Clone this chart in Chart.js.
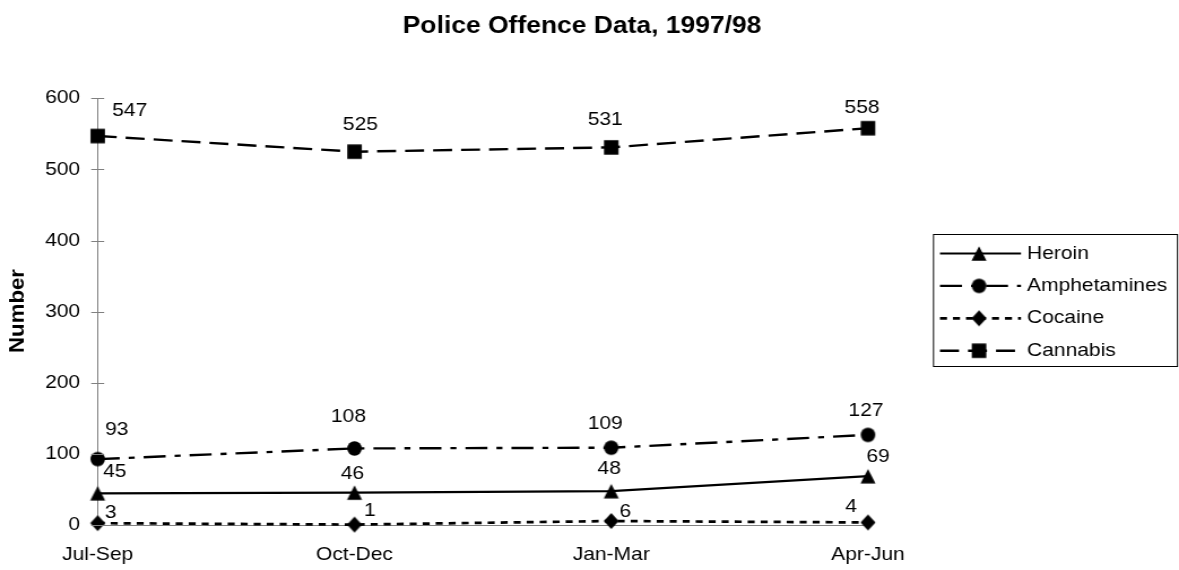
<!DOCTYPE html>
<html>
<head>
<meta charset="utf-8">
<script src="https://cdn.jsdelivr.net/npm/chart.js@4/dist/chart.umd.min.js"></script>
<style>
  html, body { margin: 0; padding: 0; background: #fff; overflow: hidden; }
</style>
</head>
<body>
<canvas id="c" width="1043" height="570" style="width:1179px;height:570px;display:block"></canvas>
<script>
// ---- data ----
const quarters = ['Jul-Sep', 'Oct-Dec', 'Jan-Mar', 'Apr-Jun'];
const heroin = [45, 46, 48, 69];
const amphetamines = [93, 108, 109, 127];
const cocaine = [3, 1, 6, 4];
const cannabis = [547, 525, 531, 558];
const yTicks = [0, 100, 200, 300, 400, 500, 600];
const chartTitle = 'Police Offence Data, 1997/98';
const yTitle = 'Number';

// The canvas is rendered narrower than it is displayed, which widens the lettering.
// Horizontal lengths are given in display pixels and converted with px().
const SX = 1179 / 1043;
const px = v => v / SX;
const FONT = '"Liberation Sans", Arial, Helvetica, sans-serif';

// Solid black marker images, pre-narrowed so they display with the given size.
function marker(shape, w, h) {
  const cw = w / SX;
  const c = document.createElement('canvas');
  c.width = Math.ceil(cw) + 2;
  c.height = Math.ceil(h) + 2;
  const g = c.getContext('2d');
  const cx = c.width / 2, cy = c.height / 2;
  g.fillStyle = '#000';
  g.beginPath();
  if (shape === 'triangle') {
    g.moveTo(cx, cy - h / 2);
    g.lineTo(cx + cw / 2, cy + h / 2);
    g.lineTo(cx - cw / 2, cy + h / 2);
  } else if (shape === 'circle') {
    g.ellipse(cx, cy, cw / 2, h / 2, 0, 0, Math.PI * 2);
  } else if (shape === 'diamond') {
    g.moveTo(cx, cy - h / 2);
    g.lineTo(cx + cw / 2, cy);
    g.lineTo(cx, cy + h / 2);
    g.lineTo(cx - cw / 2, cy);
  } else {
    g.rect(cx - cw / 2, cy - h / 2, cw, h);
  }
  g.closePath();
  g.fill();
  return c;
}

const marks = {
  triangle: marker('triangle', 15, 14.5),
  circle: marker('circle', 14.5, 14.5),
  diamond: marker('diamond', 15, 16),
  square: marker('square', 14.5, 14.5)
};

function series(label, data, style, dash, width, labelShift) {
  return {
    label, data,
    borderColor: '#000',
    backgroundColor: '#000',
    borderWidth: width,
    borderDash: dash.map(px),
    pointStyle: style,
    pointRadius: 7,
    pointHoverRadius: 7,
    tension: 0,
    fill: false,
    clip: false,
    labelShift
  };
}

const datasets = [
  series('Heroin', heroin, marks.triangle, [], 2.2, [[17, -21], [-2, -19], [-2, -22], [10, -19]]),
  series('Amphetamines', amphetamines, marks.circle, [22, 9, 6, 9], 2.4, [[19, -29.5], [-6, -32], [-6, -24], [-2, -24]]),
  series('Cocaine', cocaine, marks.diamond, [7, 6], 2.7, [[13, -10], [15.5, -14], [14, -9], [-17, -16]]),
  series('Cannabis', cannabis, marks.square, [19, 9], 2.4, [[32, -25], [6, -27], [-6, -27.5], [-6, -20]])
];

const decorations = {
  id: 'decorations',
  afterDraw(chart) {
    const ctx = chart.ctx;
    const area = chart.chartArea;
    const yScale = chart.scales.y;

    ctx.save();
    // tick marks crossing the value axis
    ctx.strokeStyle = '#808080';
    ctx.lineWidth = 1;
    ctx.setLineDash([]);
    yScale.ticks.forEach(t => {
      const y = Math.round(yScale.getPixelForValue(t.value)) + 0.5;
      ctx.beginPath();
      ctx.moveTo(area.left - px(6.5), y);
      ctx.lineTo(area.left + px(6.5), y);
      ctx.stroke();
    });

    // value labels
    ctx.fillStyle = '#000';
    ctx.font = '18.6px ' + FONT;
    ctx.textAlign = 'center';
    ctx.textBaseline = 'middle';
    chart.data.datasets.forEach((ds, di) => {
      const meta = chart.getDatasetMeta(di);
      meta.data.forEach((pt, i) => {
        const s = ds.labelShift[i];
        ctx.fillText(String(ds.data[i]), pt.x + px(s[0]), pt.y + s[1]);
      });
    });

    // chart title
    ctx.font = 'bold 23.4px ' + FONT;
    ctx.textBaseline = 'alphabetic';
    ctx.fillText(chartTitle, px(582), 32.7);

    // value axis title
    ctx.save();
    ctx.translate(px(17.5), 311);
    ctx.rotate(-Math.PI / 2);
    ctx.scale(1.2, 1);
    ctx.font = 'bold 18.5px ' + FONT;
    ctx.textBaseline = 'middle';
    ctx.fillText(yTitle, 0, 0);
    ctx.restore();

    // legend
    const boxL = px(933.5), boxR = px(1177.5), boxT = 234.5, boxB = 366.5;
    ctx.strokeStyle = '#000';
    ctx.lineWidth = 1;
    ctx.strokeRect(boxL, boxT, boxR - boxL, boxB - boxT);
    ctx.font = '18.6px ' + FONT;
    ctx.textAlign = 'left';
    ctx.textBaseline = 'middle';
    chart.data.datasets.forEach((ds, i) => {
      const y = 253.5 + i * 32.4;
      ctx.strokeStyle = '#000';
      ctx.lineWidth = ds.borderWidth;
      ctx.setLineDash(ds.borderDash);
      ctx.beginPath();
      ctx.moveTo(px(940), y);
      ctx.lineTo(px(1021), y);
      ctx.stroke();
      ctx.setLineDash([]);
      const img = ds.pointStyle;
      ctx.drawImage(img, px(979) - img.width / 2, y - img.height / 2);
      ctx.fillText(ds.label, px(1027), y);
    });
    ctx.restore();
  }
};

new Chart(document.getElementById('c'), {
  type: 'line',
  data: { labels: quarters, datasets },
  options: {
    responsive: false,
    devicePixelRatio: 1,
    animation: false,
    events: [],
    layout: { padding: { left: 0, top: 98.3, right: 1043 - px(868), bottom: 0 } },
    plugins: {
      legend: { display: false },
      title: { display: false },
      tooltip: { enabled: false }
    },
    scales: {
      x: {
        type: 'category',
        offset: false,
        grid: { display: false, drawTicks: false },
        border: { display: true, color: '#808080', width: 1 },
        ticks: {
          color: '#000',
          font: { family: FONT, size: 18.6 },
          padding: 18.8,
          maxRotation: 0,
          autoSkip: false
        },
        afterFit(scale) { scale.height = 570 - 525.3; }
      },
      y: {
        min: 0,
        max: 600,
        grid: { display: false, drawTicks: false },
        border: { display: true, color: '#808080', width: 1 },
        ticks: {
          color: '#000',
          font: { family: FONT, size: 18.6 },
          padding: 15.5
        },
        afterBuildTicks(scale) { scale.ticks = yTicks.map(v => ({ value: v })); },
        afterFit(scale) { scale.width = px(97.7); }
      }
    }
  },
  plugins: [decorations]
});
</script>
</body>
</html>
